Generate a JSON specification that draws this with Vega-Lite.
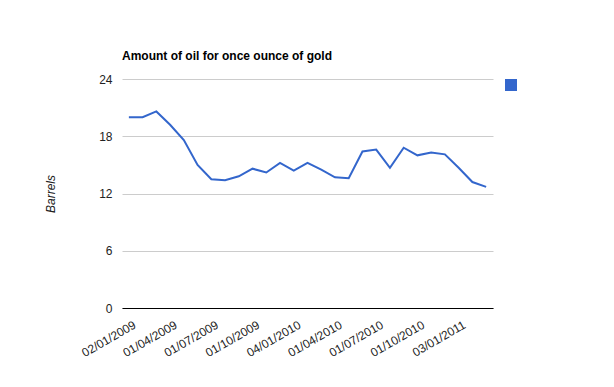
{
  "$schema": "https://vega.github.io/schema/vega-lite/v6.json",
  "width": 371,
  "height": 229,
  "autosize": {"type": "none"},
  "padding": {"left": 122, "top": 79, "right": 121, "bottom": 79},
  "background": "white",
  "title": {
    "text": "Amount of oil for once ounce of gold",
    "anchor": "start",
    "frame": "group",
    "font": "Liberation Sans",
    "fontSize": 12,
    "fontWeight": "bold",
    "color": "#000000",
    "offset": 10
  },
  "data": {
    "values": [
      {"date": "02/01/2009", "barrels": 20.0, "series": "Barrels"},
      {"date": "02/02/2009", "barrels": 20.0, "series": "Barrels"},
      {"date": "02/03/2009", "barrels": 20.6, "series": "Barrels"},
      {"date": "01/04/2009", "barrels": 19.2, "series": "Barrels"},
      {"date": "01/05/2009", "barrels": 17.6, "series": "Barrels"},
      {"date": "01/06/2009", "barrels": 15.0, "series": "Barrels"},
      {"date": "01/07/2009", "barrels": 13.5, "series": "Barrels"},
      {"date": "03/08/2009", "barrels": 13.4, "series": "Barrels"},
      {"date": "01/09/2009", "barrels": 13.8, "series": "Barrels"},
      {"date": "01/10/2009", "barrels": 14.6, "series": "Barrels"},
      {"date": "02/11/2009", "barrels": 14.2, "series": "Barrels"},
      {"date": "01/12/2009", "barrels": 15.2, "series": "Barrels"},
      {"date": "04/01/2010", "barrels": 14.4, "series": "Barrels"},
      {"date": "01/02/2010", "barrels": 15.2, "series": "Barrels"},
      {"date": "01/03/2010", "barrels": 14.5, "series": "Barrels"},
      {"date": "01/04/2010", "barrels": 13.7, "series": "Barrels"},
      {"date": "03/05/2010", "barrels": 13.6, "series": "Barrels"},
      {"date": "01/06/2010", "barrels": 16.4, "series": "Barrels"},
      {"date": "01/07/2010", "barrels": 16.6, "series": "Barrels"},
      {"date": "02/08/2010", "barrels": 14.7, "series": "Barrels"},
      {"date": "01/09/2010", "barrels": 16.8, "series": "Barrels"},
      {"date": "01/10/2010", "barrels": 16.0, "series": "Barrels"},
      {"date": "01/11/2010", "barrels": 16.3, "series": "Barrels"},
      {"date": "01/12/2010", "barrels": 16.1, "series": "Barrels"},
      {"date": "03/01/2011", "barrels": 14.7, "series": "Barrels"},
      {"date": "01/02/2011", "barrels": 13.2, "series": "Barrels"},
      {"date": "01/03/2011", "barrels": 12.7, "series": "Barrels"}
    ]
  },
  "mark": {"type": "line", "strokeWidth": 2},
  "encoding": {
    "x": {
      "field": "date",
      "type": "ordinal",
      "sort": null,
      "scale": {"type": "point", "padding": 0.5},
      "axis": {
        "title": null,
        "values": ["02/01/2009", "01/04/2009", "01/07/2009", "01/10/2009", "04/01/2010", "01/04/2010", "01/07/2010", "01/10/2010", "03/01/2011"],
        "labelAngle": -30,
        "labelAlign": "right",
        "labelBaseline": "top",
        "labelPadding": 11,
        "labelOffset": 3,
        "labelFont": "Liberation Sans",
        "labelFontSize": 12,
        "labelColor": "#222222",
        "ticks": false,
        "domainColor": "#000000",
        "domainWidth": 1,
        "grid": false,
        "labelOverlap": false,
        "zindex": 1
      }
    },
    "y": {
      "field": "barrels",
      "type": "quantitative",
      "scale": {"domain": [0, 24], "nice": false, "zero": true},
      "axis": {
        "title": "Barrels",
        "titleFont": "Liberation Sans",
        "titleFontSize": 12,
        "titleFontWeight": "normal",
        "titleFontStyle": "italic",
        "titleColor": "#222222",
        "titlePadding": 41,
        "values": [0, 6, 12, 18, 24],
        "labelFont": "Liberation Sans",
        "labelFontSize": 12,
        "labelColor": "#222222",
        "labelPadding": 10,
        "ticks": false,
        "domain": false,
        "gridColor": "#cccccc",
        "gridWidth": 1
      }
    },
    "color": {
      "field": "series",
      "type": "nominal",
      "scale": {"range": ["#3366cc"]},
      "legend": {
        "title": null,
        "orient": "none",
        "legendX": 383,
        "legendY": 0,
        "padding": 0,
        "symbolType": "square",
        "symbolSize": 144,
        "symbolFillColor": "#3366cc",
        "symbolStrokeWidth": 0,
        "symbolOffset": 0,
        "labelExpr": "''"
      }
    }
  },
  "config": {
    "view": {"stroke": null}
  }
}
